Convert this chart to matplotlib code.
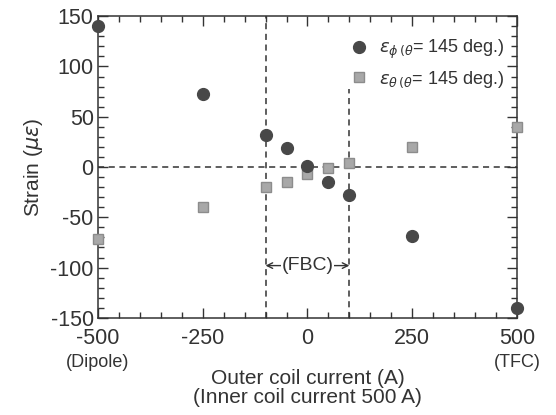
import matplotlib.pyplot as plt
from matplotlib.ticker import MultipleLocator
from matplotlib.transforms import blended_transform_factory

plt.rcParams['font.family'] = ['Liberation Sans', 'DejaVu Sans']
plt.rcParams['mathtext.fontset'] = 'dejavusans'
plt.rcParams['axes.unicode_minus'] = False

# outer coil current (A)
current = [-500, -250, -100, -50, 0, 50, 100, 250, 500]
# strain (micro strain)
eps_phi = [140, 73, 32, 19, 1, -15, -28, -69, -140]
eps_theta = [-72, -40, -20, -15, -7, -1, 4, 20, 40]

fig = plt.figure(figsize=(5.56, 4.15), dpi=100)
ax = fig.add_axes([0.176, 0.234, 0.754, 0.727])

ax.axhline(0, color='#333333', ls=(0, (4, 3)), lw=1.1, zorder=1)
ax.axvline(-100, color='#333333', ls=(0, (4, 3)), lw=1.1, zorder=1)
ax.plot([100, 100], [-150, 78], color='#333333', ls=(0, (4, 3)), lw=1.1, zorder=1)

ax.plot(current, eps_phi, 'o', ms=8.5, color='#484848', ls='none', clip_on=False, zorder=4,
        label=r'$\varepsilon_{\phi\,(\theta}$= 145 deg.)')
ax.plot(current, eps_theta, 's', ms=7.5, mfc='#a8a8a8', mec='#8c8c8c', ls='none', clip_on=False, zorder=3,
        label=r'$\varepsilon_{\theta\,(\theta}$= 145 deg.)')

# FBC range arrow
ax.annotate('', xy=(-100, -98), xytext=(-40, -98),
            arrowprops=dict(arrowstyle='->', color='#333333', lw=1, shrinkA=0, shrinkB=0))
ax.annotate('', xy=(100, -98), xytext=(40, -98),
            arrowprops=dict(arrowstyle='->', color='#333333', lw=1, shrinkA=0, shrinkB=0))
ax.text(0, -98, '(FBC)', ha='center', va='center', fontsize=14, color='#333333',
        bbox=dict(fc='white', ec='none', pad=0.5))

ax.set_xlim(-500, 500)
ax.set_ylim(-150, 150)
ax.xaxis.set_major_locator(MultipleLocator(250))
ax.xaxis.set_minor_locator(MultipleLocator(50))
ax.yaxis.set_major_locator(MultipleLocator(50))
ax.yaxis.set_minor_locator(MultipleLocator(10))
ax.tick_params(which='both', direction='in', top=True, right=True, colors='#333333',
               labelcolor='#333333', labelsize=15.5)
ax.tick_params(which='major', length=7, width=1)
ax.tick_params(which='minor', length=4, width=1)
ax.tick_params(axis='x', pad=7)
ax.tick_params(axis='y', pad=3)
for s in ax.spines.values():
    s.set_color('#333333')
    s.set_linewidth(1.1)

tr = blended_transform_factory(ax.transData, fig.transFigure)
ax.text(-500, 1 - 362 / 415, '(Dipole)', ha='center', va='center', fontsize=13,
        color='#333333', transform=tr)
ax.text(500, 1 - 362 / 415, '(TFC)', ha='center', va='center', fontsize=13,
        color='#333333', transform=tr)

ax.set_xlabel('Outer coil current (A)\n(Inner coil current 500 A)', fontsize=15,
              color='#333333', labelpad=15, linespacing=1.0)
ax.set_ylabel(r'Strain ($\mu\varepsilon$)', fontsize=15, color='#333333', labelpad=4)

leg = ax.legend(loc='upper right', frameon=False, fontsize=13, handletextpad=0.6,
                borderaxespad=0.3, labelspacing=0.45, handlelength=1.0,
                bbox_to_anchor=(1.0, 0.97))
for t in leg.get_texts():
    t.set_color('#333333')

fig.savefig('out.png', dpi=100)
